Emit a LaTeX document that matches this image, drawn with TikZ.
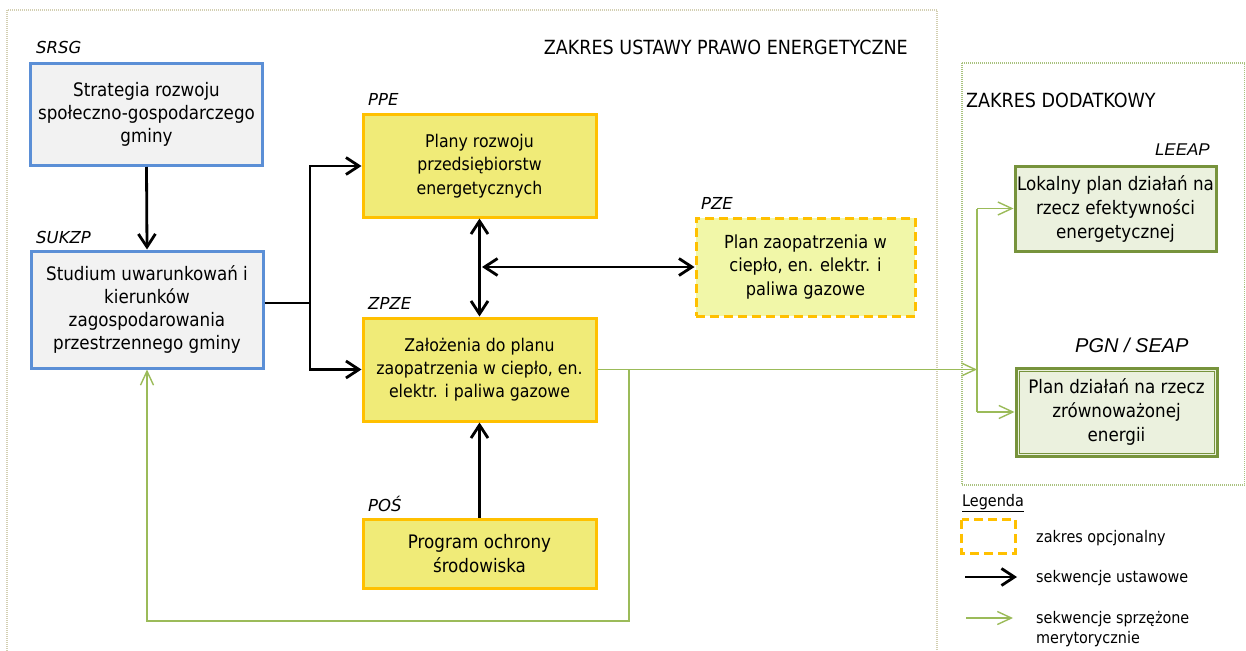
\documentclass[tikz,border=0pt]{standalone}
\usepackage{fontspec}
\setmainfont{DejaVu Sans Condensed}
\newfontfamily\arialf{Liberation Sans}
\newfontfamily\tagf{DejaVu Sans}
\usetikzlibrary{arrows.meta}
\definecolor{bluebd}{HTML}{5B8FD6}
\definecolor{grayfill}{HTML}{F2F2F2}
\definecolor{orangebd}{HTML}{FFC000}
\definecolor{yellowfill}{HTML}{F0EB78}
\definecolor{paleyellow}{HTML}{F1F7A8}
\definecolor{greenbd}{HTML}{77933C}
\definecolor{greenfill}{HTML}{EBF1DE}
\definecolor{greenln}{HTML}{9BBB59}
\definecolor{framebd}{HTML}{D3CFB2}
\definecolor{frametwobd}{HTML}{A9C27F}
\tikzset{
  box/.style={draw, line width=3pt, align=center, inner sep=0pt, font=\fontsize{17.5}{23.3}\selectfont},
  bluebox/.style={box, draw=bluebd, fill=grayfill, font=\fontsize{18.6}{23.3}\selectfont},
  yelbox/.style={box, draw=orangebd, fill=yellowfill},
  optbox/.style={box, draw=orangebd, fill=paleyellow, dash pattern=on 9pt off 5pt, font=\fontsize{18}{23.3}\selectfont},
  grnbox/.style={box, draw=greenbd, fill=greenfill, font=\fontsize{18.6}{24}\selectfont},
  tag/.style={inner sep=0pt, font=\tagf\fontsize{16.5}{18}\selectfont\itshape},
  atag/.style={inner sep=0pt, font=\arialf\fontsize{17}{20}\selectfont\itshape},
  ttl/.style={inner sep=0pt, font=\fontsize{19.5}{22}\selectfont},
  leg/.style={inner sep=0pt, align=left, font=\fontsize{16}{20}\selectfont},
  blk/.style={line width=2.8pt, black, -{Straight Barb[length=13pt,width=17pt]}},
  blkboth/.style={line width=2.8pt, black, {Straight Barb[length=13pt,width=17pt]}-{Straight Barb[length=13pt,width=17pt]}},
  grn/.style={line width=1.4pt, greenln, -{Straight Barb[length=14pt,width=13pt]}},
  grnline/.style={line width=1.4pt, greenln},
}
\begin{document}
\begin{tikzpicture}[x=1pt,y=-1pt]
\useasboundingbox (0,0) rectangle (1246,650);
\clip (0,0) rectangle (1246,650);
% frames
\draw[framebd, line width=1.3pt, dash pattern=on 1pt off 1pt] (7,10) rectangle (937,680);
\draw[frametwobd, line width=1.3pt, dash pattern=on 1pt off 1pt] (962,63) rectangle (1244.5,485);
\node[ttl, anchor=base east] (t1) at (908,55) {ZAKRES USTAWY PRAWO ENERGETYCZNE};
\node[ttl, anchor=base west] (t2) at (966,107) {ZAKRES DODATKOWY};

% boxes
\node[bluebox, minimum width=232pt, minimum height=102pt] (SRSG) at (146.5,114.5) {Strategia rozwoju\\społeczno-gospodarczego\\gminy};
\node[bluebox, minimum width=232pt, minimum height=117pt] (SUKZP) at (147,309.5) {Studium uwarunkowań i\\kierunków\\zagospodarowania\\przestrzennego gminy};
\node[yelbox, minimum width=233pt, minimum height=102pt] (PPE) at (479.5,166) {Plany rozwoju\\przedsiębiorstw\\energetycznych};
\node[yelbox, minimum width=233pt, minimum height=103pt] (ZPZE) at (479.5,369.5) {Założenia do planu\\zaopatrzenia w ciepło, en.\\elektr. i paliwa gazowe};
\node[yelbox, minimum width=233pt, minimum height=69pt, font=\fontsize{18.6}{23.3}\selectfont] (POS) at (479.5,553.5) {Program ochrony\\środowiska};
\node[optbox, minimum width=219pt, minimum height=98pt] (PZE) at (805.5,267) {Plan zaopatrzenia w\\ciepło, en. elektr. i\\paliwa gazowe};
\node[grnbox, minimum width=201pt, minimum height=85pt] (LEEAP) at (1115.5,208.5) {Lokalny plan działań na\\rzecz efektywności\\energetycznej};
\node[grnbox, minimum width=201pt, minimum height=88pt] (PGN) at (1116.5,412) {Plan działań na rzecz\\zrównoważonej\\energii};
\draw[greenbd, line width=1pt] ([shift={(4.5,4.5)}]PGN.north west) rectangle ([shift={(-4.5,-4.5)}]PGN.south east);

% tags
\node[tag, anchor=base west] (lSRSG) at (36,54) {SRSG};
\node[tag, anchor=base west] (lSUKZP) at (36,243) {SUKZP};
\node[tag, anchor=base west] (lPPE) at (368,106) {PPE};
\node[tag, anchor=base west] (lZPZE) at (368,309) {ZPZE};
\node[tag, anchor=base west] (lPOS) at (368,511) {POŚ};
\node[tag, anchor=base west] (lPZE) at (701,209) {PZE};
\node[atag, anchor=base east] (lLEEAP) at (1210,155) {LEEAP};
\node[atag, anchor=base west, font=\arialf\fontsize{20}{22}\selectfont\itshape] (lPGN) at (1075,352) {PGN / SEAP};

% black connectors
\draw[blk] (SRSG.south) -- (SUKZP.north);
\coordinate (j1) at (310,303);
\draw[line width=2.8pt] (SUKZP.east |- j1) -- (j1);
\draw[blk] (j1) |- (PPE.west);
\draw[blk] (j1) |- (ZPZE.west);
\draw[blkboth] (PPE.south) -- (ZPZE.north);
\coordinate (j2) at (482,267);
\draw[blkboth] (j2) -- (PZE.west);
\draw[blk] (POS.north) -- (ZPZE.south);

% green connectors
\coordinate (g1) at (629,369.5);
\coordinate (g2) at (629,621);
\coordinate (g3) at (147,621);
\coordinate (j3) at (977,369.5);
\draw[grnline] (ZPZE.east) -- (g1);
\draw[grn] (g1) -- (j3);
\draw[grn] (g1) -- (g2) -- (g3) -- (SUKZP.south);
\draw[grn] (j3 |- LEEAP.west) -- (LEEAP.west);
\draw[grn] (j3 |- PGN.west) -- (PGN.west);
\draw[grnline] (j3 |- LEEAP.west) -- (j3 |- PGN.west);

% legend
\node[leg, anchor=base west] (lg) at (962,506) {\underline{Legenda}};
\draw[orangebd, line width=3pt, dash pattern=on 9pt off 5pt] (961.5,519.5) rectangle (1015.5,553);
\node[leg, anchor=base west] (lg1) at (1036,542) {zakres opcjonalny};
\coordinate (la1) at (965,577);
\coordinate (la2) at (1017,577);
\draw[blk] (la1) -- (la2);
\node[leg, anchor=base west] (lg2) at (1036,582) {sekwencje ustawowe};
\coordinate (lb1) at (966,618);
\coordinate (lb2) at (1013,618);
\draw[grn] (lb1) -- (lb2);
\node[leg, anchor=north west] (lg3) at (1036,611) {sekwencje sprzężone\\merytorycznie};
\end{tikzpicture}
\end{document}
